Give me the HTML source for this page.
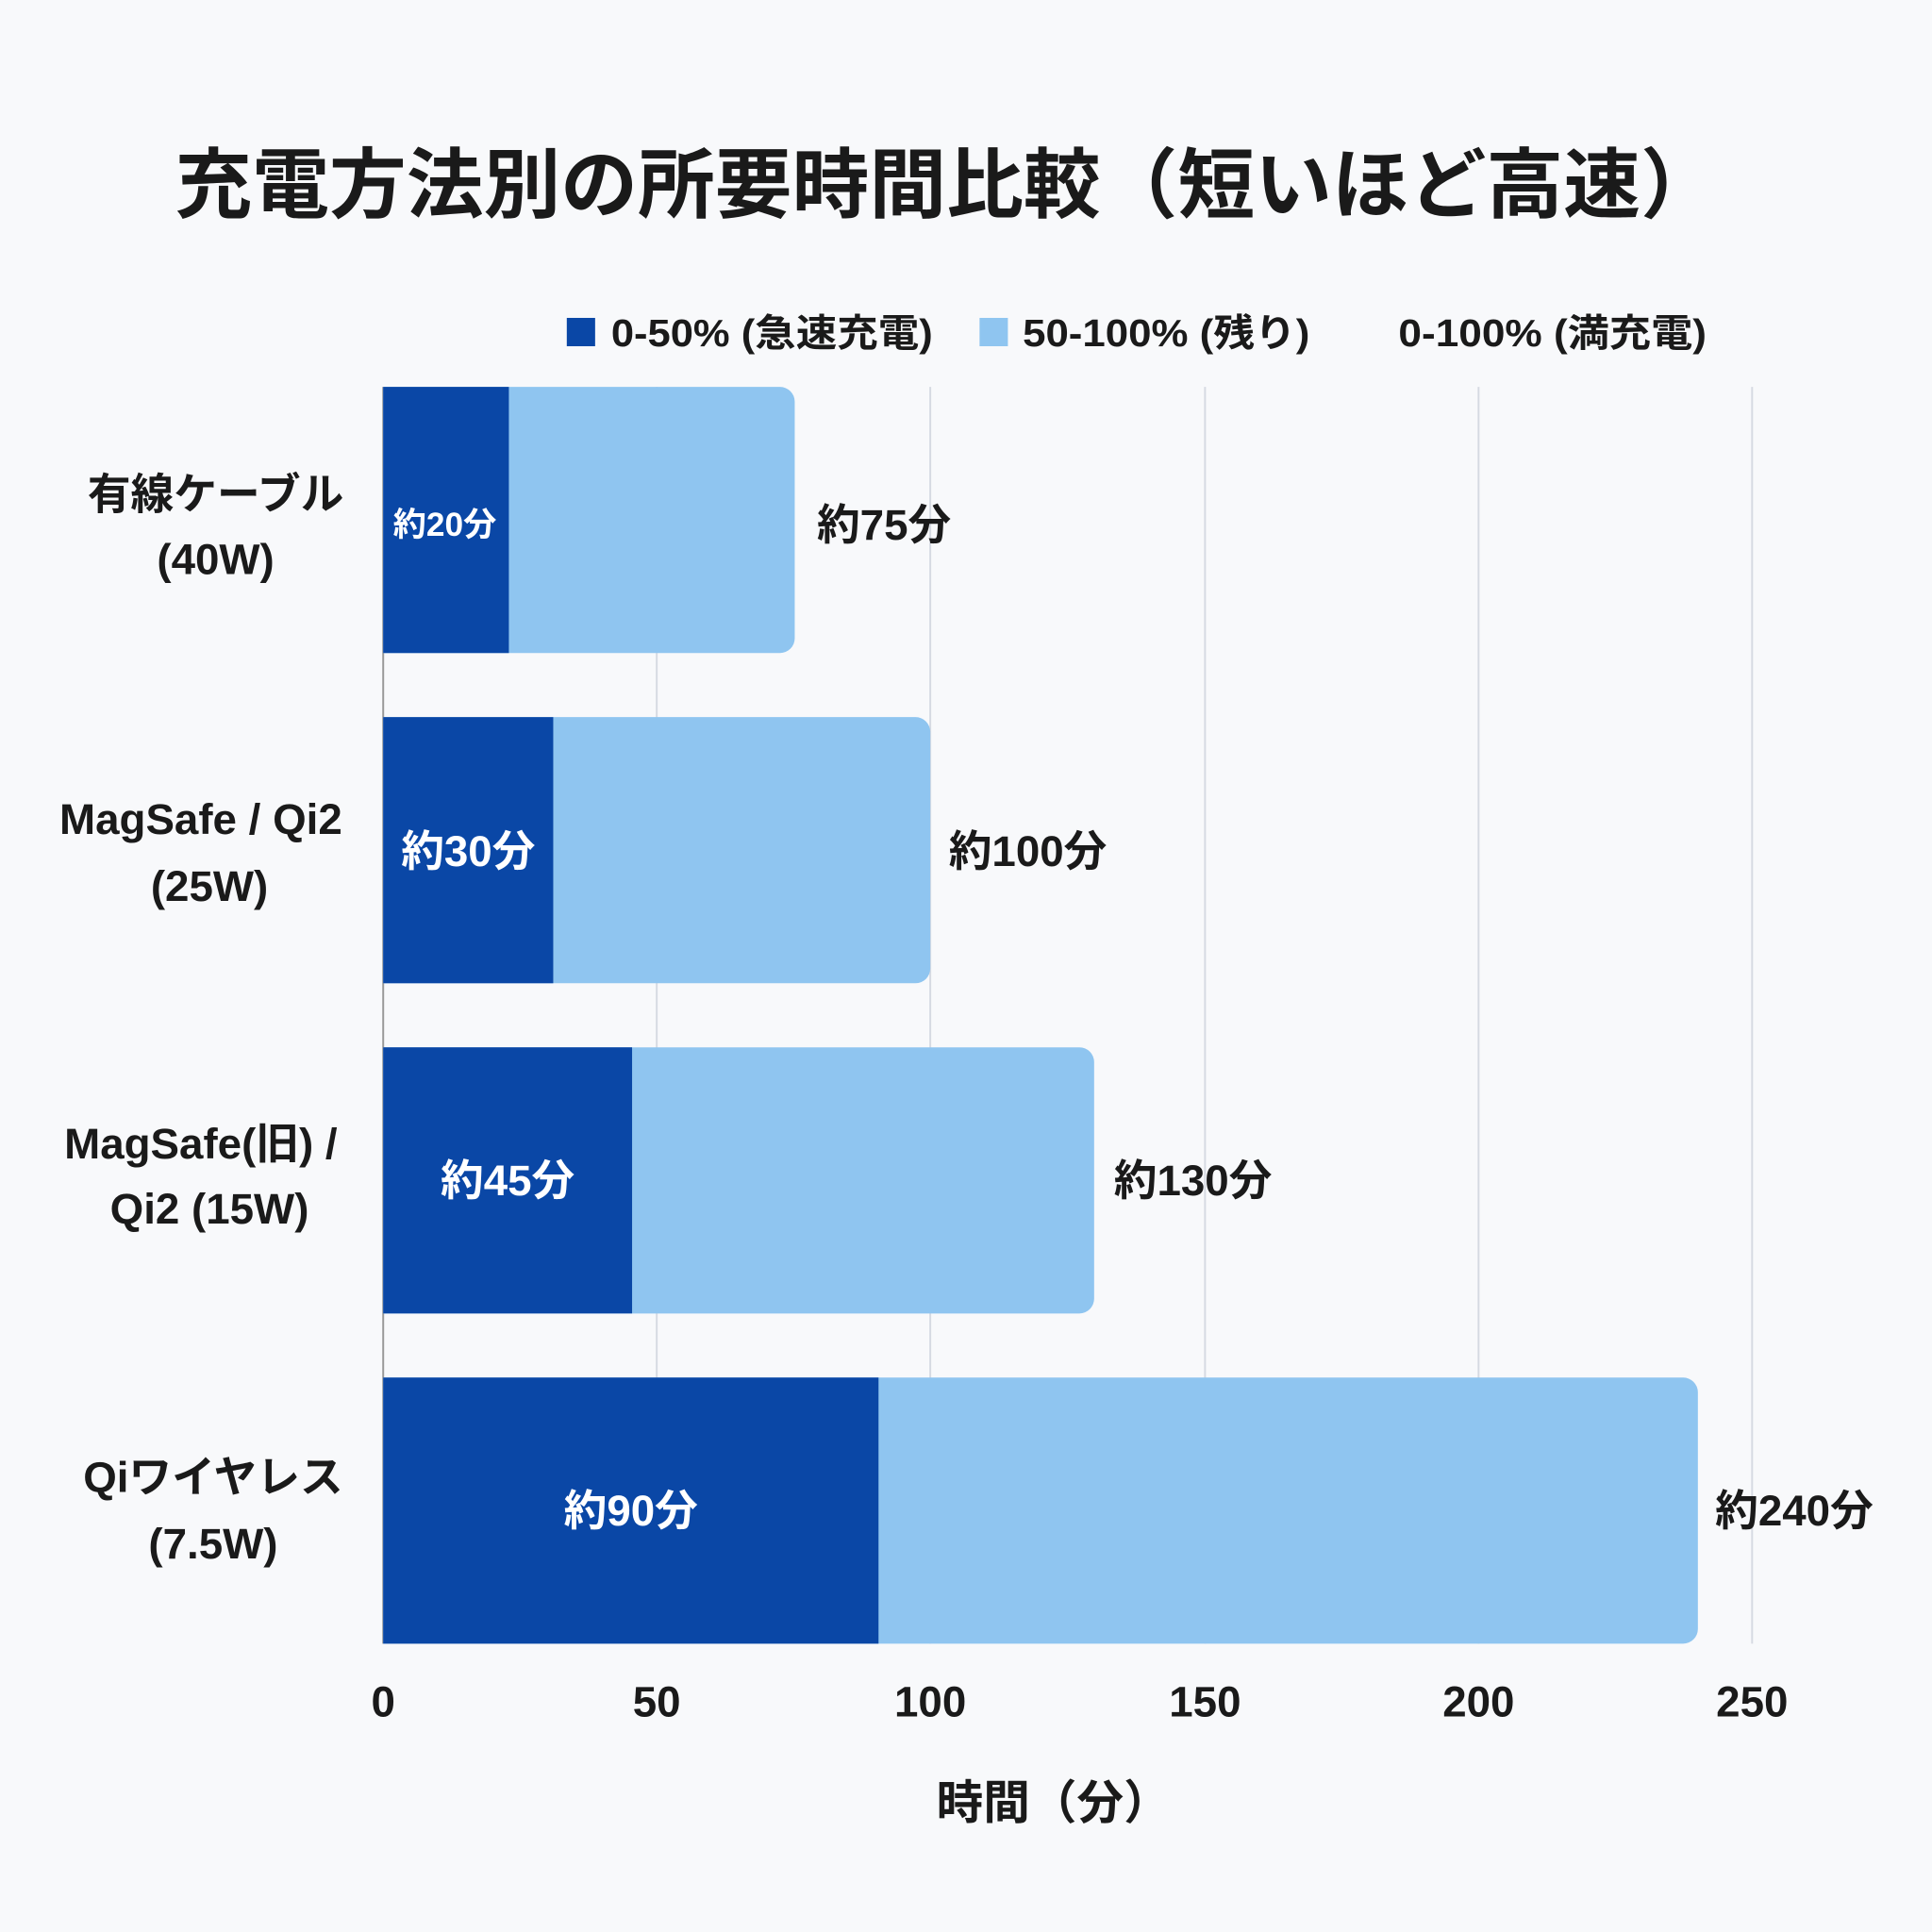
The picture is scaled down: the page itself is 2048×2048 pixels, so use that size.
<!DOCTYPE html>
<html><head><meta charset="utf-8"><style>
html,body{margin:0;padding:0;background:#f8f9fb;}
svg{display:block;}
text{font-family:"Liberation Sans","Noto Sans CJK JP",sans-serif;font-weight:bold;fill:#1a1a1a;}
</style></head><body>
<svg width="2048" height="2048" viewBox="0 0 1568 1568" xmlns="http://www.w3.org/2000/svg">
<rect width="1568" height="1568" fill="#f8f9fb"/>
<text x="768" y="172" font-size="62" text-anchor="middle" textLength="1252" lengthAdjust="spacingAndGlyphs">充電方法別の所要時間比較（短いほど高速）</text>
<rect x="460" y="258" width="23" height="23" fill="#0a47a6"/>
<text x="496" y="281" font-size="31" textLength="261" lengthAdjust="spacingAndGlyphs">0-50% (急速充電)</text>
<rect x="795" y="258" width="23" height="23" fill="#8fc5f0"/>
<text x="830" y="281" font-size="31" textLength="233" lengthAdjust="spacingAndGlyphs">50-100% (残り)</text>
<text x="1135" y="281" font-size="31" textLength="250" lengthAdjust="spacingAndGlyphs">0-100% (満充電)</text>
<g stroke="#d6dae2" stroke-width="1.5">
<line x1="533" y1="314" x2="533" y2="1334"/>
<line x1="755" y1="314" x2="755" y2="1334"/>
<line x1="978" y1="314" x2="978" y2="1334"/>
<line x1="1200" y1="314" x2="1200" y2="1334"/>
<line x1="1422" y1="314" x2="1422" y2="1334"/>
<line x1="311" y1="314" x2="311" y2="1334" stroke="#999"/>
</g>
<g fill="#8fc5f0">
<path d="M311 314H633a12 12 0 0 1 12 12V518a12 12 0 0 1 -12 12H311Z"/>
<path d="M311 582H743a12 12 0 0 1 12 12V786a12 12 0 0 1 -12 12H311Z"/>
<path d="M311 850H876a12 12 0 0 1 12 12V1054a12 12 0 0 1 -12 12H311Z"/>
<path d="M311 1118H1366a12 12 0 0 1 12 12V1322a12 12 0 0 1 -12 12H311Z"/>
</g>
<g fill="#0a47a6">
<rect x="311" y="314" width="102" height="216"/>
<rect x="311" y="582" width="138" height="216"/>
<rect x="311" y="850" width="202" height="216"/>
<rect x="311" y="1118" width="402" height="216"/>
</g>
<g fill="#fff" text-anchor="middle">
<text x="361" y="435" font-size="27" style="fill:#fff">約20分</text>
<text x="380" y="703" font-size="35" style="fill:#fff">約30分</text>
<text x="412" y="970" font-size="35" style="fill:#fff">約45分</text>
<text x="512" y="1238" font-size="35" style="fill:#fff">約90分</text>
</g>
<g font-size="35">
<text x="663" y="438">約75分</text>
<text x="770" y="703">約100分</text>
<text x="904" y="970">約130分</text>
<text x="1392" y="1238">約240分</text>
</g>
<g font-size="35" text-anchor="middle">
<text x="175" y="413">有線ケーブル</text>
<text x="175" y="466">(40W)</text>
<text x="163" y="677">MagSafe / Qi2</text>
<text x="170" y="731">(25W)</text>
<text x="163" y="940">MagSafe(旧) /</text>
<text x="170" y="993">Qi2 (15W)</text>
<text x="173" y="1211">Qiワイヤレス</text>
<text x="173" y="1265">(7.5W)</text>
</g>
<g font-size="35" text-anchor="middle">
<text x="311" y="1393">0</text>
<text x="533" y="1393">50</text>
<text x="755" y="1393">100</text>
<text x="978" y="1393">150</text>
<text x="1200" y="1393">200</text>
<text x="1422" y="1393">250</text>
</g>
<text x="855" y="1476" font-size="38" text-anchor="middle">時間（分）</text>
</svg>
</body></html>
